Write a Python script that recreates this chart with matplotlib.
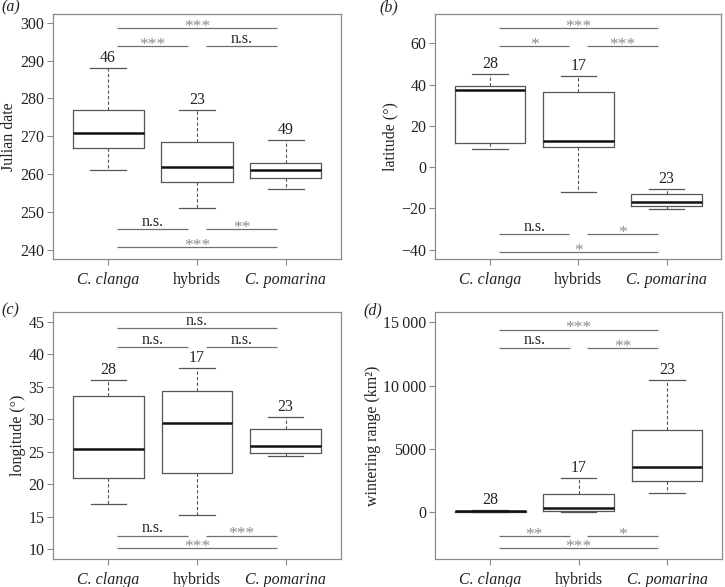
import matplotlib
matplotlib.use('Agg')
import matplotlib.pyplot as plt

plt.rcParams['font.family'] = ['Liberation Serif', 'DejaVu Serif']

groups = ['C. clanga', 'hybrids', 'C. pomarina']
group_italic = [True, False, True]

# (a) Julian date
jul_low = [261, 251, 256]
jul_q1 = [267, 258, 259]
jul_med = [271, 262, 261]
jul_q3 = [277, 268.5, 263]
jul_high = [288, 277, 269]
jul_n = [46, 23, 49]
jul_sig_y = [298.5, 293.8, 293.8, 245.5, 245.5, 240.7]
jul_sig_lab = ['***', '***', 'n.s.', 'n.s.', '**', '***']

# (b) latitude
lat_low = [8.7, -11.9, -20.2]
lat_q1 = [11.6, 9.8, -18.6]
lat_med = [37.3, 12.6, -16.8]
lat_q3 = [39.2, 36.3, -13.1]
lat_high = [45.3, 44.2, -10.5]
lat_n = [28, 17, 23]
lat_sig_y = [67.4, 58.5, 58.5, -32.6, -32.6, -41.3]
lat_sig_lab = ['***', '*', '***', 'n.s.', '*', '*']

# (c) longitude
lon_low = [17.0, 15.25, 24.3]
lon_q1 = [20.96, 21.7, 24.8]
lon_med = [25.4, 29.45, 25.9]
lon_q3 = [33.6, 34.3, 28.5]
lon_high = [36.0, 37.9, 30.3]
lon_n = [28, 17, 23]
lon_sig_y = [44.0, 41.1, 41.1, 12.05, 12.05, 10.1]
lon_sig_lab = ['n.s.', 'n.s.', 'n.s.', 'n.s.', '***', '***']

# (d) wintering range
wr_low = [0, 0, 1476]
wr_q1 = [10, 53, 2425]
wr_med = [50, 343, 3532]
wr_q3 = [90, 1400, 6485]
wr_high = [120, 2689, 10439]
wr_n = [28, 17, 23]
wr_sig_y = [14420, 12970, 12970, -1900, -1900, -2870]
wr_sig_lab = ['***', 'n.s.', '**', '**', '*', '***']

sig_pairs = [(1, 3), (1, 2), (2, 3), (1, 2), (2, 3), (1, 3)]

FRAME = '#8a8a8a'
LINE = '#707070'
STAR = '#8c8c8c'
TXT = '#222222'

W, H = 725, 587
fig = plt.figure(figsize=(W / 100, H / 100), dpi=100)
positions = [
    [0.0731, 0.5588, 0.3972, 0.4173],
    [0.6004, 0.5588, 0.3945, 0.4173],
    [0.0735, 0.0477, 0.3964, 0.4203],
    [0.6004, 0.0482, 0.3954, 0.4198],
]
letter_px = [(1, 7), (379, 7), (1, 310), (363, 310)]
panels = [
    (jul_low, jul_q1, jul_med, jul_q3, jul_high, jul_n, jul_sig_y, jul_sig_lab,
     'Julian date', (237.6, 302.3), [240, 250, 260, 270, 280, 290, 300], None, '(a)'),
    (lat_low, lat_q1, lat_med, lat_q3, lat_high, lat_n, lat_sig_y, lat_sig_lab,
     'latitude (°)', (-44.5, 74.2), [-40, -20, 0, 20, 40, 60], None, '(b)'),
    (lon_low, lon_q1, lon_med, lon_q3, lon_high, lon_n, lon_sig_y, lon_sig_lab,
     'longitude (°)', (8.46, 46.5), [10, 15, 20, 25, 30, 35, 40, 45], None, '(c)'),
    (wr_low, wr_q1, wr_med, wr_q3, wr_high, wr_n, wr_sig_y, wr_sig_lab,
     'wintering range (km²)', (-3693, 15791), [0, 5000, 10000, 15000],
     ['0', '5000', '15\u2009000'.replace('15', '10'), '15\u2009000'], '(d)'),
]

for pos, lp, p in zip(positions, letter_px, panels):
    low, q1, med, q3, high, ns, sy, slab, ylabel, ylim, yticks, ytl, letter = p
    ax = fig.add_axes(pos)
    stats = []
    for i in range(3):
        stats.append(dict(whislo=low[i], q1=q1[i], med=med[i], q3=q3[i],
                          whishi=high[i], fliers=[]))
    ax.bxp(stats, positions=[1, 2, 3], widths=0.8, capwidths=0.4,
           showfliers=False,
           boxprops=dict(color='#555555', linewidth=0.9),
           medianprops=dict(color='#111111', linewidth=1.8, solid_capstyle='butt'),
           whiskerprops=dict(color='#555555', linewidth=0.8, linestyle=(0, (3, 2))),
           capprops=dict(color='#555555', linewidth=0.9))
    ax.set_xlim(0.38, 3.62)
    ax.set_ylim(*ylim)
    ax.set_yticks(yticks)
    if ytl is not None:
        ax.set_yticklabels(ytl)
    ax.set_xticks([1, 2, 3])
    ax.set_xticklabels(groups)
    for lab, it in zip(ax.get_xticklabels(), group_italic):
        lab.set_fontstyle('italic' if it else 'normal')
    for s in ax.spines.values():
        s.set_color(FRAME)
        s.set_linewidth(0.9)
    ax.tick_params(axis='both', direction='out', length=4.3, width=0.8,
                   color=FRAME, labelsize=11.5, labelcolor=TXT)
    ax.tick_params(axis='x', pad=5)
    ax.tick_params(axis='y', pad=2)
    ax.set_ylabel(ylabel, fontsize=11.5, color=TXT, labelpad=2)

    # n labels
    for i in range(3):
        ax.annotate(str(ns[i]), (i + 1, high[i]), xytext=(0, 1.5),
                    textcoords='offset points', ha='center', va='bottom',
                    fontsize=11.5, color=TXT)
    # significance
    for (a, b), yv, lab in zip(sig_pairs, sy, slab):
        x0, x1 = a + 0.1, b - 0.1
        ax.plot([x0, x1], [yv, yv], color=LINE, linewidth=0.9,
                solid_capstyle='butt')
        if lab == 'n.s.':
            ax.annotate(lab, ((x0 + x1) / 2, yv), xytext=(0, 2.5),
                        textcoords='offset points', ha='center',
                        va='baseline', fontsize=11.5, color=TXT)
        else:
            ax.annotate(lab, ((x0 + x1) / 2, yv), xytext=(0, -2),
                        textcoords='offset points', ha='center',
                        va='baseline', fontsize=12.5, color=STAR)
    fig.text(lp[0] / W, 1 - lp[1] / H, letter, fontsize=11.5,
             fontstyle='italic', color=TXT, ha='left', va='center')

fig.savefig('out.png', dpi=100)
